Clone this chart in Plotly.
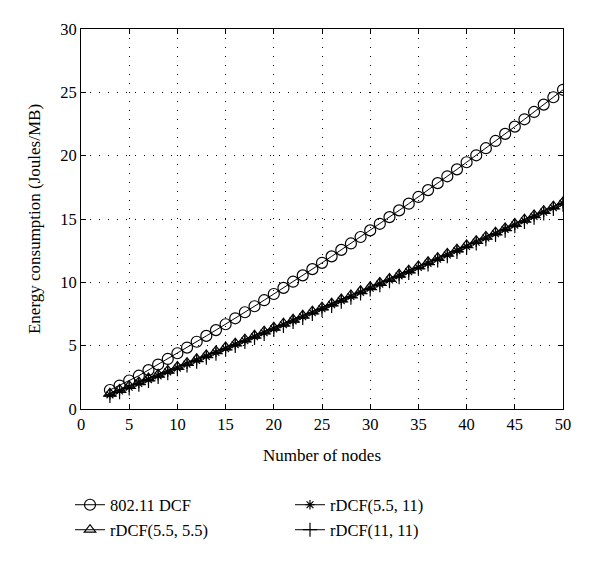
import plotly.graph_objects as go

nodes = list(range(3, 51))

dcf = [1.50, 1.85, 2.25, 2.63, 3.07, 3.51, 3.95, 4.40, 4.85, 5.31, 5.77, 6.23, 6.69, 7.16,
       7.64, 8.11, 8.59, 9.08, 9.56, 10.05, 10.55, 11.04, 11.54, 12.05, 12.56, 13.07, 13.58,
       14.10, 14.62, 15.15, 15.68, 16.21, 16.74, 17.28, 17.83, 18.37, 18.92, 19.48, 20.03,
       20.59, 21.16, 21.72, 22.29, 22.87, 23.45, 24.03, 24.61, 25.20]

rdcf_55_55 = [1.24, 1.54, 1.84, 2.14, 2.44, 2.74, 3.05, 3.35, 3.66, 3.96, 4.27, 4.58, 4.89, 5.20,
              5.51, 5.82, 6.14, 6.45, 6.77, 7.08, 7.40, 7.72, 8.04, 8.36, 8.68, 9.00, 9.33,
              9.65, 9.98, 10.30, 10.63, 10.96, 11.29, 11.62, 11.95, 12.28, 12.62, 12.95, 13.29,
              13.62, 13.96, 14.30, 14.64, 14.98, 15.32, 15.66, 16.01, 16.35]

rdcf_55_11 = [1.12, 1.42, 1.72, 2.02, 2.32, 2.62, 2.93, 3.23, 3.54, 3.84, 4.15, 4.46, 4.77, 5.08,
              5.39, 5.70, 6.02, 6.33, 6.65, 6.96, 7.28, 7.60, 7.92, 8.24, 8.56, 8.88, 9.21,
              9.53, 9.86, 10.18, 10.51, 10.84, 11.17, 11.50, 11.83, 12.16, 12.50, 12.83, 13.17,
              13.50, 13.84, 14.18, 14.52, 14.86, 15.20, 15.54, 15.89, 16.23]

rdcf_11_11 = [1.02, 1.32, 1.62, 1.92, 2.22, 2.52, 2.83, 3.13, 3.44, 3.74, 4.05, 4.36, 4.67, 4.98,
              5.29, 5.60, 5.92, 6.23, 6.55, 6.86, 7.18, 7.50, 7.82, 8.14, 8.46, 8.78, 9.11,
              9.43, 9.76, 10.08, 10.41, 10.74, 11.07, 11.40, 11.73, 12.06, 12.40, 12.73, 13.07,
              13.40, 13.74, 14.08, 14.42, 14.76, 15.10, 15.44, 15.79, 16.13]

labels = ["802.11 DCF", "rDCF(5.5, 5.5)", "rDCF(5.5, 11)", "rDCF(11, 11)"]
x_ticks = list(range(0, 51, 5))
y_ticks = list(range(0, 31, 5))

FONT = "Liberation Serif"

fig = go.Figure()
series = [
    (dcf, labels[0], "circle-open", 11, "legend"),
    (rdcf_55_55, labels[1], "triangle-up-open", 10, "legend2"),
    (rdcf_55_11, labels[2], "asterisk-open", 8, "legend3"),
    (rdcf_11_11, labels[3], "cross-thin-open", 10, "legend4"),
]
for ys, name, sym, sz, lg in series:
    fig.add_trace(go.Scatter(
        x=nodes, y=ys, name=name, mode="lines+markers",
        line=dict(color="black", width=1),
        marker=dict(symbol=sym, size=sz, color="black",
                    line=dict(color="black", width=1.2)),
        legend=lg, showlegend=True,
    ))

axis_common = dict(
    showline=True, linecolor="black", linewidth=1, mirror="ticks",
    ticks="inside", ticklen=5, tickcolor="black", tickwidth=1,
    showgrid=True, gridcolor="black", gridwidth=1, griddash="1px,8px",
    zeroline=False, tickfont=dict(family=FONT, size=16.5, color="black"),
)

fig.update_xaxes(range=[0, 50], tickvals=x_ticks,
                 title=dict(text="Number of nodes", font=dict(family=FONT, size=17, color="black"),
                            standoff=16),
                 **axis_common)
fig.update_yaxes(range=[0, 30], tickvals=y_ticks,
                 title=dict(text="Energy consumption (Joules/MB)",
                            font=dict(family=FONT, size=17, color="black"), standoff=15),
                 **axis_common)

leg = dict(font=dict(family=FONT, size=16.5, color="black"), bgcolor="rgba(0,0,0,0)",
           xanchor="left", yanchor="middle", itemwidth=30)
x1 = (70 - 81) / 482
x2 = (290 - 81) / 482
y1 = (409 - 505) / 380
y2 = (409 - 530) / 380
fig.update_layout(
    width=592, height=555,
    margin=dict(l=73, r=37, t=21, b=154),
    paper_bgcolor="white", plot_bgcolor="white",
    font=dict(family=FONT, color="black"),
    showlegend=True,
    legend=dict(x=x1, y=y1, **leg),
    legend2=dict(x=x1, y=y2, **leg),
    legend3=dict(x=x2, y=y1, **leg),
    legend4=dict(x=x2, y=y2, **leg),
)

fig.write_html("out.html")
